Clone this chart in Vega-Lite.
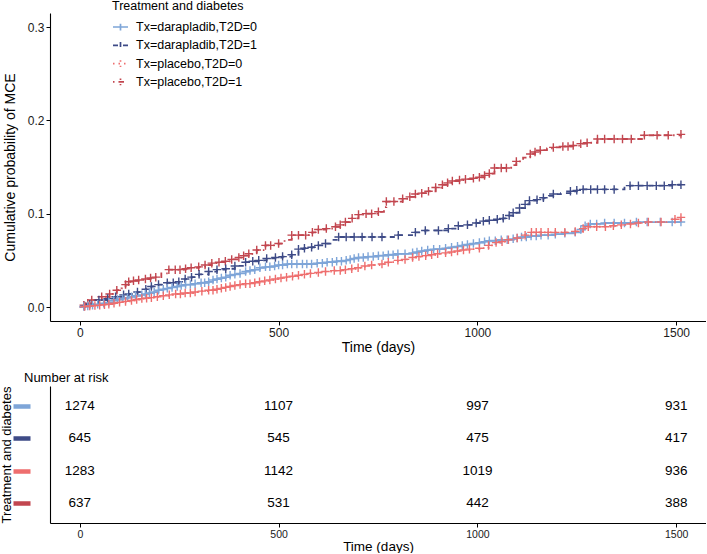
{
  "$schema": "https://vega.github.io/schema/vega-lite/v6.json",
  "background": "white",
  "padding": 0,
  "spacing": 18,
  "config": {
    "view": {"stroke": null},
    "font": "Liberation Sans",
    "axis": {"domainColor": "black", "domainWidth": 1.1, "tickColor": "black", "labelColor": "#1a1a1a", "titleColor": "black", "titleFontWeight": "normal", "labelFont": "Liberation Sans", "titleFont": "Liberation Sans", "grid": false},
    "legend": {"labelFont": "Liberation Sans", "titleFont": "Liberation Sans"}
  },
  "datasets": {
    "km": [
      {"g":"Tx=placebo,T2D=1","t":0,"p":0,"c":0},
      {"g":"Tx=placebo,T2D=1","t":10,"p":0.002,"c":1},
      {"g":"Tx=placebo,T2D=1","t":20,"p":0.004,"c":1},
      {"g":"Tx=placebo,T2D=1","t":30,"p":0.0075,"c":1},
      {"g":"Tx=placebo,T2D=1","t":45,"p":0.009,"c":0},
      {"g":"Tx=placebo,T2D=1","t":55,"p":0.011,"c":1},
      {"g":"Tx=placebo,T2D=1","t":75,"p":0.014,"c":1},
      {"g":"Tx=placebo,T2D=1","t":93,"p":0.018,"c":1},
      {"g":"Tx=placebo,T2D=1","t":105,"p":0.02,"c":0},
      {"g":"Tx=placebo,T2D=1","t":115,"p":0.024,"c":1},
      {"g":"Tx=placebo,T2D=1","t":123,"p":0.027,"c":1},
      {"g":"Tx=placebo,T2D=1","t":135,"p":0.028,"c":1},
      {"g":"Tx=placebo,T2D=1","t":148,"p":0.029,"c":1},
      {"g":"Tx=placebo,T2D=1","t":165,"p":0.03,"c":1},
      {"g":"Tx=placebo,T2D=1","t":178,"p":0.031,"c":1},
      {"g":"Tx=placebo,T2D=1","t":191,"p":0.032,"c":1},
      {"g":"Tx=placebo,T2D=1","t":205,"p":0.036,"c":0},
      {"g":"Tx=placebo,T2D=1","t":224,"p":0.04,"c":1},
      {"g":"Tx=placebo,T2D=1","t":240,"p":0.04,"c":1},
      {"g":"Tx=placebo,T2D=1","t":252,"p":0.04,"c":1},
      {"g":"Tx=placebo,T2D=1","t":266,"p":0.041,"c":1},
      {"g":"Tx=placebo,T2D=1","t":280,"p":0.042,"c":1},
      {"g":"Tx=placebo,T2D=1","t":299,"p":0.043,"c":1},
      {"g":"Tx=placebo,T2D=1","t":315,"p":0.045,"c":1},
      {"g":"Tx=placebo,T2D=1","t":332,"p":0.047,"c":1},
      {"g":"Tx=placebo,T2D=1","t":350,"p":0.048,"c":1},
      {"g":"Tx=placebo,T2D=1","t":366,"p":0.049,"c":1},
      {"g":"Tx=placebo,T2D=1","t":382,"p":0.051,"c":1},
      {"g":"Tx=placebo,T2D=1","t":400,"p":0.053,"c":1},
      {"g":"Tx=placebo,T2D=1","t":412,"p":0.055,"c":1},
      {"g":"Tx=placebo,T2D=1","t":425,"p":0.057,"c":1},
      {"g":"Tx=placebo,T2D=1","t":445,"p":0.061,"c":1},
      {"g":"Tx=placebo,T2D=1","t":467,"p":0.066,"c":1},
      {"g":"Tx=placebo,T2D=1","t":480,"p":0.066,"c":1},
      {"g":"Tx=placebo,T2D=1","t":500,"p":0.068,"c":1},
      {"g":"Tx=placebo,T2D=1","t":515,"p":0.072,"c":0},
      {"g":"Tx=placebo,T2D=1","t":533,"p":0.077,"c":1},
      {"g":"Tx=placebo,T2D=1","t":550,"p":0.077,"c":1},
      {"g":"Tx=placebo,T2D=1","t":568,"p":0.077,"c":1},
      {"g":"Tx=placebo,T2D=1","t":585,"p":0.08,"c":1},
      {"g":"Tx=placebo,T2D=1","t":600,"p":0.083,"c":1},
      {"g":"Tx=placebo,T2D=1","t":620,"p":0.084,"c":1},
      {"g":"Tx=placebo,T2D=1","t":643,"p":0.086,"c":1},
      {"g":"Tx=placebo,T2D=1","t":655,"p":0.088,"c":1},
      {"g":"Tx=placebo,T2D=1","t":668,"p":0.091,"c":1},
      {"g":"Tx=placebo,T2D=1","t":685,"p":0.095,"c":1},
      {"g":"Tx=placebo,T2D=1","t":701,"p":0.099,"c":1},
      {"g":"Tx=placebo,T2D=1","t":720,"p":0.1,"c":1},
      {"g":"Tx=placebo,T2D=1","t":734,"p":0.1,"c":1},
      {"g":"Tx=placebo,T2D=1","t":751,"p":0.102,"c":1},
      {"g":"Tx=placebo,T2D=1","t":765,"p":0.107,"c":0},
      {"g":"Tx=placebo,T2D=1","t":771,"p":0.113,"c":1},
      {"g":"Tx=placebo,T2D=1","t":790,"p":0.113,"c":1},
      {"g":"Tx=placebo,T2D=1","t":812,"p":0.116,"c":1},
      {"g":"Tx=placebo,T2D=1","t":830,"p":0.118,"c":1},
      {"g":"Tx=placebo,T2D=1","t":844,"p":0.121,"c":1},
      {"g":"Tx=placebo,T2D=1","t":860,"p":0.122,"c":1},
      {"g":"Tx=placebo,T2D=1","t":877,"p":0.124,"c":1},
      {"g":"Tx=placebo,T2D=1","t":895,"p":0.128,"c":1},
      {"g":"Tx=placebo,T2D=1","t":912,"p":0.131,"c":1},
      {"g":"Tx=placebo,T2D=1","t":925,"p":0.133,"c":1},
      {"g":"Tx=placebo,T2D=1","t":937,"p":0.135,"c":1},
      {"g":"Tx=placebo,T2D=1","t":955,"p":0.136,"c":1},
      {"g":"Tx=placebo,T2D=1","t":970,"p":0.137,"c":1},
      {"g":"Tx=placebo,T2D=1","t":990,"p":0.138,"c":1},
      {"g":"Tx=placebo,T2D=1","t":1005,"p":0.139,"c":1},
      {"g":"Tx=placebo,T2D=1","t":1018,"p":0.141,"c":1},
      {"g":"Tx=placebo,T2D=1","t":1030,"p":0.143,"c":1},
      {"g":"Tx=placebo,T2D=1","t":1043,"p":0.149,"c":1},
      {"g":"Tx=placebo,T2D=1","t":1060,"p":0.149,"c":1},
      {"g":"Tx=placebo,T2D=1","t":1073,"p":0.149,"c":1},
      {"g":"Tx=placebo,T2D=1","t":1085,"p":0.152,"c":0},
      {"g":"Tx=placebo,T2D=1","t":1098,"p":0.156,"c":1},
      {"g":"Tx=placebo,T2D=1","t":1115,"p":0.16,"c":0},
      {"g":"Tx=placebo,T2D=1","t":1133,"p":0.164,"c":1},
      {"g":"Tx=placebo,T2D=1","t":1145,"p":0.166,"c":1},
      {"g":"Tx=placebo,T2D=1","t":1158,"p":0.168,"c":1},
      {"g":"Tx=placebo,T2D=1","t":1175,"p":0.17,"c":0},
      {"g":"Tx=placebo,T2D=1","t":1191,"p":0.171,"c":1},
      {"g":"Tx=placebo,T2D=1","t":1215,"p":0.172,"c":1},
      {"g":"Tx=placebo,T2D=1","t":1228,"p":0.172,"c":1},
      {"g":"Tx=placebo,T2D=1","t":1241,"p":0.173,"c":1},
      {"g":"Tx=placebo,T2D=1","t":1260,"p":0.175,"c":1},
      {"g":"Tx=placebo,T2D=1","t":1276,"p":0.176,"c":1},
      {"g":"Tx=placebo,T2D=1","t":1302,"p":0.18,"c":1},
      {"g":"Tx=placebo,T2D=1","t":1320,"p":0.18,"c":1},
      {"g":"Tx=placebo,T2D=1","t":1344,"p":0.18,"c":1},
      {"g":"Tx=placebo,T2D=1","t":1365,"p":0.18,"c":1},
      {"g":"Tx=placebo,T2D=1","t":1387,"p":0.18,"c":1},
      {"g":"Tx=placebo,T2D=1","t":1420,"p":0.184,"c":1},
      {"g":"Tx=placebo,T2D=1","t":1452,"p":0.184,"c":1},
      {"g":"Tx=placebo,T2D=1","t":1480,"p":0.184,"c":1},
      {"g":"Tx=placebo,T2D=1","t":1512,"p":0.185,"c":1},

      {"g":"Tx=darapladib,T2D=1","t":0,"p":0,"c":0},
      {"g":"Tx=darapladib,T2D=1","t":12,"p":0.001,"c":1},
      {"g":"Tx=darapladib,T2D=1","t":25,"p":0.003,"c":1},
      {"g":"Tx=darapladib,T2D=1","t":48,"p":0.0075,"c":1},
      {"g":"Tx=darapladib,T2D=1","t":70,"p":0.009,"c":1},
      {"g":"Tx=darapladib,T2D=1","t":90,"p":0.011,"c":1},
      {"g":"Tx=darapladib,T2D=1","t":110,"p":0.013,"c":1},
      {"g":"Tx=darapladib,T2D=1","t":123,"p":0.014,"c":1},
      {"g":"Tx=darapladib,T2D=1","t":145,"p":0.016,"c":1},
      {"g":"Tx=darapladib,T2D=1","t":166,"p":0.019,"c":1},
      {"g":"Tx=darapladib,T2D=1","t":180,"p":0.022,"c":1},
      {"g":"Tx=darapladib,T2D=1","t":198,"p":0.024,"c":1},
      {"g":"Tx=darapladib,T2D=1","t":220,"p":0.026,"c":1},
      {"g":"Tx=darapladib,T2D=1","t":235,"p":0.026,"c":1},
      {"g":"Tx=darapladib,T2D=1","t":249,"p":0.027,"c":1},
      {"g":"Tx=darapladib,T2D=1","t":265,"p":0.03,"c":1},
      {"g":"Tx=darapladib,T2D=1","t":281,"p":0.032,"c":1},
      {"g":"Tx=darapladib,T2D=1","t":300,"p":0.035,"c":1},
      {"g":"Tx=darapladib,T2D=1","t":324,"p":0.038,"c":1},
      {"g":"Tx=darapladib,T2D=1","t":345,"p":0.04,"c":1},
      {"g":"Tx=darapladib,T2D=1","t":367,"p":0.041,"c":1},
      {"g":"Tx=darapladib,T2D=1","t":390,"p":0.044,"c":1},
      {"g":"Tx=darapladib,T2D=1","t":417,"p":0.048,"c":1},
      {"g":"Tx=darapladib,T2D=1","t":435,"p":0.049,"c":1},
      {"g":"Tx=darapladib,T2D=1","t":450,"p":0.05,"c":1},
      {"g":"Tx=darapladib,T2D=1","t":470,"p":0.052,"c":1},
      {"g":"Tx=darapladib,T2D=1","t":492,"p":0.053,"c":1},
      {"g":"Tx=darapladib,T2D=1","t":510,"p":0.054,"c":1},
      {"g":"Tx=darapladib,T2D=1","t":533,"p":0.056,"c":1},
      {"g":"Tx=darapladib,T2D=1","t":550,"p":0.062,"c":1},
      {"g":"Tx=darapladib,T2D=1","t":565,"p":0.063,"c":1},
      {"g":"Tx=darapladib,T2D=1","t":583,"p":0.064,"c":1},
      {"g":"Tx=darapladib,T2D=1","t":600,"p":0.066,"c":1},
      {"g":"Tx=darapladib,T2D=1","t":618,"p":0.068,"c":1},
      {"g":"Tx=darapladib,T2D=1","t":635,"p":0.072,"c":0},
      {"g":"Tx=darapladib,T2D=1","t":651,"p":0.075,"c":1},
      {"g":"Tx=darapladib,T2D=1","t":670,"p":0.075,"c":1},
      {"g":"Tx=darapladib,T2D=1","t":690,"p":0.075,"c":1},
      {"g":"Tx=darapladib,T2D=1","t":710,"p":0.075,"c":1},
      {"g":"Tx=darapladib,T2D=1","t":735,"p":0.075,"c":1},
      {"g":"Tx=darapladib,T2D=1","t":760,"p":0.075,"c":1},
      {"g":"Tx=darapladib,T2D=1","t":801,"p":0.077,"c":1},
      {"g":"Tx=darapladib,T2D=1","t":844,"p":0.08,"c":1},
      {"g":"Tx=darapladib,T2D=1","t":869,"p":0.082,"c":1},
      {"g":"Tx=darapladib,T2D=1","t":902,"p":0.082,"c":1},
      {"g":"Tx=darapladib,T2D=1","t":927,"p":0.084,"c":1},
      {"g":"Tx=darapladib,T2D=1","t":952,"p":0.087,"c":1},
      {"g":"Tx=darapladib,T2D=1","t":975,"p":0.088,"c":1},
      {"g":"Tx=darapladib,T2D=1","t":997,"p":0.09,"c":1},
      {"g":"Tx=darapladib,T2D=1","t":1015,"p":0.092,"c":1},
      {"g":"Tx=darapladib,T2D=1","t":1030,"p":0.093,"c":1},
      {"g":"Tx=darapladib,T2D=1","t":1050,"p":0.094,"c":1},
      {"g":"Tx=darapladib,T2D=1","t":1065,"p":0.095,"c":1},
      {"g":"Tx=darapladib,T2D=1","t":1080,"p":0.098,"c":1},
      {"g":"Tx=darapladib,T2D=1","t":1090,"p":0.101,"c":1},
      {"g":"Tx=darapladib,T2D=1","t":1106,"p":0.106,"c":1},
      {"g":"Tx=darapladib,T2D=1","t":1120,"p":0.11,"c":1},
      {"g":"Tx=darapladib,T2D=1","t":1131,"p":0.114,"c":1},
      {"g":"Tx=darapladib,T2D=1","t":1150,"p":0.115,"c":1},
      {"g":"Tx=darapladib,T2D=1","t":1166,"p":0.117,"c":1},
      {"g":"Tx=darapladib,T2D=1","t":1180,"p":0.119,"c":0},
      {"g":"Tx=darapladib,T2D=1","t":1191,"p":0.121,"c":1},
      {"g":"Tx=darapladib,T2D=1","t":1210,"p":0.122,"c":0},
      {"g":"Tx=darapladib,T2D=1","t":1234,"p":0.124,"c":1},
      {"g":"Tx=darapladib,T2D=1","t":1250,"p":0.125,"c":1},
      {"g":"Tx=darapladib,T2D=1","t":1266,"p":0.126,"c":1},
      {"g":"Tx=darapladib,T2D=1","t":1285,"p":0.126,"c":1},
      {"g":"Tx=darapladib,T2D=1","t":1302,"p":0.126,"c":1},
      {"g":"Tx=darapladib,T2D=1","t":1320,"p":0.126,"c":1},
      {"g":"Tx=darapladib,T2D=1","t":1344,"p":0.126,"c":1},
      {"g":"Tx=darapladib,T2D=1","t":1370,"p":0.128,"c":0},
      {"g":"Tx=darapladib,T2D=1","t":1384,"p":0.13,"c":1},
      {"g":"Tx=darapladib,T2D=1","t":1405,"p":0.13,"c":1},
      {"g":"Tx=darapladib,T2D=1","t":1427,"p":0.13,"c":1},
      {"g":"Tx=darapladib,T2D=1","t":1450,"p":0.13,"c":1},
      {"g":"Tx=darapladib,T2D=1","t":1470,"p":0.13,"c":1},
      {"g":"Tx=darapladib,T2D=1","t":1490,"p":0.131,"c":1},
      {"g":"Tx=darapladib,T2D=1","t":1512,"p":0.131,"c":1},

      {"g":"Tx=darapladib,T2D=0","t":0,"p":0,"c":0},
      {"g":"Tx=darapladib,T2D=0","t":10,"p":0.0005,"c":1},
      {"g":"Tx=darapladib,T2D=0","t":20,"p":0.001,"c":1},
      {"g":"Tx=darapladib,T2D=0","t":32,"p":0.002,"c":1},
      {"g":"Tx=darapladib,T2D=0","t":45,"p":0.003,"c":1},
      {"g":"Tx=darapladib,T2D=0","t":60,"p":0.004,"c":1},
      {"g":"Tx=darapladib,T2D=0","t":73,"p":0.005,"c":1},
      {"g":"Tx=darapladib,T2D=0","t":85,"p":0.007,"c":1},
      {"g":"Tx=darapladib,T2D=0","t":95,"p":0.008,"c":1},
      {"g":"Tx=darapladib,T2D=0","t":108,"p":0.009,"c":1},
      {"g":"Tx=darapladib,T2D=0","t":120,"p":0.01,"c":1},
      {"g":"Tx=darapladib,T2D=0","t":130,"p":0.011,"c":1},
      {"g":"Tx=darapladib,T2D=0","t":140,"p":0.012,"c":1},
      {"g":"Tx=darapladib,T2D=0","t":156,"p":0.013,"c":1},
      {"g":"Tx=darapladib,T2D=0","t":165,"p":0.014,"c":1},
      {"g":"Tx=darapladib,T2D=0","t":175,"p":0.015,"c":1},
      {"g":"Tx=darapladib,T2D=0","t":187,"p":0.016,"c":1},
      {"g":"Tx=darapladib,T2D=0","t":198,"p":0.018,"c":1},
      {"g":"Tx=darapladib,T2D=0","t":210,"p":0.019,"c":1},
      {"g":"Tx=darapladib,T2D=0","t":220,"p":0.02,"c":1},
      {"g":"Tx=darapladib,T2D=0","t":232,"p":0.021,"c":1},
      {"g":"Tx=darapladib,T2D=0","t":245,"p":0.022,"c":1},
      {"g":"Tx=darapladib,T2D=0","t":255,"p":0.023,"c":1},
      {"g":"Tx=darapladib,T2D=0","t":266,"p":0.024,"c":1},
      {"g":"Tx=darapladib,T2D=0","t":278,"p":0.024,"c":1},
      {"g":"Tx=darapladib,T2D=0","t":290,"p":0.025,"c":1},
      {"g":"Tx=darapladib,T2D=0","t":305,"p":0.026,"c":1},
      {"g":"Tx=darapladib,T2D=0","t":314,"p":0.026,"c":1},
      {"g":"Tx=darapladib,T2D=0","t":324,"p":0.027,"c":1},
      {"g":"Tx=darapladib,T2D=0","t":335,"p":0.029,"c":1},
      {"g":"Tx=darapladib,T2D=0","t":345,"p":0.03,"c":1},
      {"g":"Tx=darapladib,T2D=0","t":356,"p":0.031,"c":1},
      {"g":"Tx=darapladib,T2D=0","t":367,"p":0.032,"c":1},
      {"g":"Tx=darapladib,T2D=0","t":378,"p":0.034,"c":1},
      {"g":"Tx=darapladib,T2D=0","t":390,"p":0.035,"c":1},
      {"g":"Tx=darapladib,T2D=0","t":403,"p":0.036,"c":1},
      {"g":"Tx=darapladib,T2D=0","t":417,"p":0.038,"c":1},
      {"g":"Tx=darapladib,T2D=0","t":428,"p":0.039,"c":1},
      {"g":"Tx=darapladib,T2D=0","t":440,"p":0.04,"c":1},
      {"g":"Tx=darapladib,T2D=0","t":453,"p":0.042,"c":1},
      {"g":"Tx=darapladib,T2D=0","t":467,"p":0.043,"c":1},
      {"g":"Tx=darapladib,T2D=0","t":478,"p":0.043,"c":1},
      {"g":"Tx=darapladib,T2D=0","t":490,"p":0.044,"c":1},
      {"g":"Tx=darapladib,T2D=0","t":500,"p":0.045,"c":1},
      {"g":"Tx=darapladib,T2D=0","t":510,"p":0.045,"c":1},
      {"g":"Tx=darapladib,T2D=0","t":522,"p":0.046,"c":1},
      {"g":"Tx=darapladib,T2D=0","t":533,"p":0.046,"c":1},
      {"g":"Tx=darapladib,T2D=0","t":546,"p":0.046,"c":1},
      {"g":"Tx=darapladib,T2D=0","t":560,"p":0.046,"c":1},
      {"g":"Tx=darapladib,T2D=0","t":571,"p":0.046,"c":1},
      {"g":"Tx=darapladib,T2D=0","t":583,"p":0.046,"c":1},
      {"g":"Tx=darapladib,T2D=0","t":597,"p":0.047,"c":1},
      {"g":"Tx=darapladib,T2D=0","t":610,"p":0.047,"c":1},
      {"g":"Tx=darapladib,T2D=0","t":622,"p":0.048,"c":1},
      {"g":"Tx=darapladib,T2D=0","t":635,"p":0.048,"c":1},
      {"g":"Tx=darapladib,T2D=0","t":646,"p":0.049,"c":1},
      {"g":"Tx=darapladib,T2D=0","t":658,"p":0.049,"c":1},
      {"g":"Tx=darapladib,T2D=0","t":670,"p":0.05,"c":1},
      {"g":"Tx=darapladib,T2D=0","t":680,"p":0.051,"c":1},
      {"g":"Tx=darapladib,T2D=0","t":690,"p":0.052,"c":1},
      {"g":"Tx=darapladib,T2D=0","t":701,"p":0.053,"c":1},
      {"g":"Tx=darapladib,T2D=0","t":713,"p":0.053,"c":1},
      {"g":"Tx=darapladib,T2D=0","t":725,"p":0.054,"c":1},
      {"g":"Tx=darapladib,T2D=0","t":738,"p":0.054,"c":1},
      {"g":"Tx=darapladib,T2D=0","t":751,"p":0.055,"c":1},
      {"g":"Tx=darapladib,T2D=0","t":763,"p":0.055,"c":1},
      {"g":"Tx=darapladib,T2D=0","t":776,"p":0.056,"c":1},
      {"g":"Tx=darapladib,T2D=0","t":788,"p":0.056,"c":1},
      {"g":"Tx=darapladib,T2D=0","t":800,"p":0.057,"c":1},
      {"g":"Tx=darapladib,T2D=0","t":818,"p":0.057,"c":1},
      {"g":"Tx=darapladib,T2D=0","t":837,"p":0.058,"c":1},
      {"g":"Tx=darapladib,T2D=0","t":848,"p":0.059,"c":1},
      {"g":"Tx=darapladib,T2D=0","t":860,"p":0.06,"c":1},
      {"g":"Tx=darapladib,T2D=0","t":875,"p":0.061,"c":1},
      {"g":"Tx=darapladib,T2D=0","t":890,"p":0.062,"c":1},
      {"g":"Tx=darapladib,T2D=0","t":905,"p":0.062,"c":1},
      {"g":"Tx=darapladib,T2D=0","t":920,"p":0.063,"c":1},
      {"g":"Tx=darapladib,T2D=0","t":935,"p":0.064,"c":1},
      {"g":"Tx=darapladib,T2D=0","t":950,"p":0.065,"c":1},
      {"g":"Tx=darapladib,T2D=0","t":962,"p":0.066,"c":1},
      {"g":"Tx=darapladib,T2D=0","t":975,"p":0.067,"c":1},
      {"g":"Tx=darapladib,T2D=0","t":990,"p":0.068,"c":1},
      {"g":"Tx=darapladib,T2D=0","t":1005,"p":0.069,"c":1},
      {"g":"Tx=darapladib,T2D=0","t":1018,"p":0.07,"c":1},
      {"g":"Tx=darapladib,T2D=0","t":1030,"p":0.071,"c":1},
      {"g":"Tx=darapladib,T2D=0","t":1045,"p":0.071,"c":1},
      {"g":"Tx=darapladib,T2D=0","t":1060,"p":0.072,"c":1},
      {"g":"Tx=darapladib,T2D=0","t":1075,"p":0.072,"c":1},
      {"g":"Tx=darapladib,T2D=0","t":1090,"p":0.073,"c":1},
      {"g":"Tx=darapladib,T2D=0","t":1100,"p":0.074,"c":1},
      {"g":"Tx=darapladib,T2D=0","t":1111,"p":0.075,"c":1},
      {"g":"Tx=darapladib,T2D=0","t":1123,"p":0.075,"c":1},
      {"g":"Tx=darapladib,T2D=0","t":1135,"p":0.076,"c":1},
      {"g":"Tx=darapladib,T2D=0","t":1148,"p":0.076,"c":1},
      {"g":"Tx=darapladib,T2D=0","t":1160,"p":0.077,"c":1},
      {"g":"Tx=darapladib,T2D=0","t":1178,"p":0.077,"c":1},
      {"g":"Tx=darapladib,T2D=0","t":1196,"p":0.078,"c":1},
      {"g":"Tx=darapladib,T2D=0","t":1220,"p":0.079,"c":1},
      {"g":"Tx=darapladib,T2D=0","t":1246,"p":0.08,"c":1},
      {"g":"Tx=darapladib,T2D=0","t":1260,"p":0.083,"c":1},
      {"g":"Tx=darapladib,T2D=0","t":1271,"p":0.087,"c":1},
      {"g":"Tx=darapladib,T2D=0","t":1284,"p":0.089,"c":1},
      {"g":"Tx=darapladib,T2D=0","t":1300,"p":0.089,"c":1},
      {"g":"Tx=darapladib,T2D=0","t":1320,"p":0.09,"c":1},
      {"g":"Tx=darapladib,T2D=0","t":1344,"p":0.09,"c":1},
      {"g":"Tx=darapladib,T2D=0","t":1370,"p":0.09,"c":1},
      {"g":"Tx=darapladib,T2D=0","t":1400,"p":0.091,"c":1},
      {"g":"Tx=darapladib,T2D=0","t":1427,"p":0.091,"c":1},
      {"g":"Tx=darapladib,T2D=0","t":1460,"p":0.091,"c":1},
      {"g":"Tx=darapladib,T2D=0","t":1490,"p":0.091,"c":1},
      {"g":"Tx=darapladib,T2D=0","t":1512,"p":0.091,"c":1},

      {"g":"Tx=placebo,T2D=0","t":0,"p":0,"c":0},
      {"g":"Tx=placebo,T2D=0","t":12,"p":0.0005,"c":1},
      {"g":"Tx=placebo,T2D=0","t":25,"p":0.001,"c":1},
      {"g":"Tx=placebo,T2D=0","t":38,"p":0.0015,"c":1},
      {"g":"Tx=placebo,T2D=0","t":50,"p":0.002,"c":1},
      {"g":"Tx=placebo,T2D=0","t":62,"p":0.0025,"c":1},
      {"g":"Tx=placebo,T2D=0","t":73,"p":0.003,"c":1},
      {"g":"Tx=placebo,T2D=0","t":86,"p":0.004,"c":1},
      {"g":"Tx=placebo,T2D=0","t":100,"p":0.005,"c":1},
      {"g":"Tx=placebo,T2D=0","t":115,"p":0.006,"c":1},
      {"g":"Tx=placebo,T2D=0","t":130,"p":0.007,"c":1},
      {"g":"Tx=placebo,T2D=0","t":143,"p":0.008,"c":1},
      {"g":"Tx=placebo,T2D=0","t":156,"p":0.009,"c":1},
      {"g":"Tx=placebo,T2D=0","t":168,"p":0.0095,"c":1},
      {"g":"Tx=placebo,T2D=0","t":180,"p":0.01,"c":1},
      {"g":"Tx=placebo,T2D=0","t":195,"p":0.011,"c":1},
      {"g":"Tx=placebo,T2D=0","t":210,"p":0.012,"c":1},
      {"g":"Tx=placebo,T2D=0","t":225,"p":0.013,"c":1},
      {"g":"Tx=placebo,T2D=0","t":241,"p":0.014,"c":1},
      {"g":"Tx=placebo,T2D=0","t":253,"p":0.014,"c":1},
      {"g":"Tx=placebo,T2D=0","t":265,"p":0.015,"c":1},
      {"g":"Tx=placebo,T2D=0","t":278,"p":0.015,"c":1},
      {"g":"Tx=placebo,T2D=0","t":290,"p":0.016,"c":1},
      {"g":"Tx=placebo,T2D=0","t":307,"p":0.017,"c":1},
      {"g":"Tx=placebo,T2D=0","t":324,"p":0.018,"c":1},
      {"g":"Tx=placebo,T2D=0","t":335,"p":0.018,"c":1},
      {"g":"Tx=placebo,T2D=0","t":345,"p":0.019,"c":1},
      {"g":"Tx=placebo,T2D=0","t":356,"p":0.02,"c":1},
      {"g":"Tx=placebo,T2D=0","t":367,"p":0.021,"c":1},
      {"g":"Tx=placebo,T2D=0","t":378,"p":0.022,"c":1},
      {"g":"Tx=placebo,T2D=0","t":390,"p":0.023,"c":1},
      {"g":"Tx=placebo,T2D=0","t":403,"p":0.024,"c":1},
      {"g":"Tx=placebo,T2D=0","t":417,"p":0.025,"c":1},
      {"g":"Tx=placebo,T2D=0","t":428,"p":0.025,"c":1},
      {"g":"Tx=placebo,T2D=0","t":440,"p":0.026,"c":1},
      {"g":"Tx=placebo,T2D=0","t":452,"p":0.027,"c":1},
      {"g":"Tx=placebo,T2D=0","t":465,"p":0.028,"c":1},
      {"g":"Tx=placebo,T2D=0","t":478,"p":0.029,"c":1},
      {"g":"Tx=placebo,T2D=0","t":492,"p":0.03,"c":1},
      {"g":"Tx=placebo,T2D=0","t":506,"p":0.031,"c":1},
      {"g":"Tx=placebo,T2D=0","t":520,"p":0.032,"c":1},
      {"g":"Tx=placebo,T2D=0","t":535,"p":0.033,"c":1},
      {"g":"Tx=placebo,T2D=0","t":550,"p":0.034,"c":1},
      {"g":"Tx=placebo,T2D=0","t":565,"p":0.035,"c":1},
      {"g":"Tx=placebo,T2D=0","t":580,"p":0.036,"c":1},
      {"g":"Tx=placebo,T2D=0","t":600,"p":0.037,"c":1},
      {"g":"Tx=placebo,T2D=0","t":618,"p":0.038,"c":1},
      {"g":"Tx=placebo,T2D=0","t":640,"p":0.039,"c":1},
      {"g":"Tx=placebo,T2D=0","t":655,"p":0.039,"c":1},
      {"g":"Tx=placebo,T2D=0","t":668,"p":0.04,"c":1},
      {"g":"Tx=placebo,T2D=0","t":684,"p":0.041,"c":1},
      {"g":"Tx=placebo,T2D=0","t":700,"p":0.042,"c":1},
      {"g":"Tx=placebo,T2D=0","t":717,"p":0.044,"c":1},
      {"g":"Tx=placebo,T2D=0","t":734,"p":0.045,"c":1},
      {"g":"Tx=placebo,T2D=0","t":760,"p":0.046,"c":1},
      {"g":"Tx=placebo,T2D=0","t":776,"p":0.048,"c":1},
      {"g":"Tx=placebo,T2D=0","t":800,"p":0.05,"c":1},
      {"g":"Tx=placebo,T2D=0","t":818,"p":0.051,"c":1},
      {"g":"Tx=placebo,T2D=0","t":837,"p":0.053,"c":1},
      {"g":"Tx=placebo,T2D=0","t":853,"p":0.054,"c":1},
      {"g":"Tx=placebo,T2D=0","t":870,"p":0.055,"c":1},
      {"g":"Tx=placebo,T2D=0","t":885,"p":0.056,"c":1},
      {"g":"Tx=placebo,T2D=0","t":900,"p":0.057,"c":1},
      {"g":"Tx=placebo,T2D=0","t":920,"p":0.058,"c":1},
      {"g":"Tx=placebo,T2D=0","t":935,"p":0.059,"c":1},
      {"g":"Tx=placebo,T2D=0","t":950,"p":0.06,"c":1},
      {"g":"Tx=placebo,T2D=0","t":965,"p":0.061,"c":1},
      {"g":"Tx=placebo,T2D=0","t":980,"p":0.062,"c":1},
      {"g":"Tx=placebo,T2D=0","t":1005,"p":0.063,"c":1},
      {"g":"Tx=placebo,T2D=0","t":1028,"p":0.066,"c":1},
      {"g":"Tx=placebo,T2D=0","t":1047,"p":0.069,"c":1},
      {"g":"Tx=placebo,T2D=0","t":1062,"p":0.07,"c":1},
      {"g":"Tx=placebo,T2D=0","t":1078,"p":0.072,"c":1},
      {"g":"Tx=placebo,T2D=0","t":1100,"p":0.074,"c":1},
      {"g":"Tx=placebo,T2D=0","t":1120,"p":0.077,"c":1},
      {"g":"Tx=placebo,T2D=0","t":1136,"p":0.08,"c":1},
      {"g":"Tx=placebo,T2D=0","t":1148,"p":0.08,"c":1},
      {"g":"Tx=placebo,T2D=0","t":1160,"p":0.08,"c":1},
      {"g":"Tx=placebo,T2D=0","t":1178,"p":0.08,"c":1},
      {"g":"Tx=placebo,T2D=0","t":1196,"p":0.08,"c":1},
      {"g":"Tx=placebo,T2D=0","t":1220,"p":0.08,"c":1},
      {"g":"Tx=placebo,T2D=0","t":1246,"p":0.081,"c":1},
      {"g":"Tx=placebo,T2D=0","t":1266,"p":0.084,"c":1},
      {"g":"Tx=placebo,T2D=0","t":1279,"p":0.086,"c":1},
      {"g":"Tx=placebo,T2D=0","t":1300,"p":0.086,"c":1},
      {"g":"Tx=placebo,T2D=0","t":1322,"p":0.086,"c":1},
      {"g":"Tx=placebo,T2D=0","t":1342,"p":0.087,"c":1},
      {"g":"Tx=placebo,T2D=0","t":1362,"p":0.088,"c":1},
      {"g":"Tx=placebo,T2D=0","t":1385,"p":0.089,"c":1},
      {"g":"Tx=placebo,T2D=0","t":1405,"p":0.09,"c":1},
      {"g":"Tx=placebo,T2D=0","t":1430,"p":0.091,"c":1},
      {"g":"Tx=placebo,T2D=0","t":1462,"p":0.091,"c":1},
      {"g":"Tx=placebo,T2D=0","t":1497,"p":0.094,"c":1},
      {"g":"Tx=placebo,T2D=0","t":1512,"p":0.096,"c":1}
    ],
    "risk": [
      {"g":"Tx=darapladib,T2D=0","t":0,"n":1274},
      {"g":"Tx=darapladib,T2D=0","t":500,"n":1107},
      {"g":"Tx=darapladib,T2D=0","t":1000,"n":997},
      {"g":"Tx=darapladib,T2D=0","t":1500,"n":931},
      {"g":"Tx=darapladib,T2D=1","t":0,"n":645},
      {"g":"Tx=darapladib,T2D=1","t":500,"n":545},
      {"g":"Tx=darapladib,T2D=1","t":1000,"n":475},
      {"g":"Tx=darapladib,T2D=1","t":1500,"n":417},
      {"g":"Tx=placebo,T2D=0","t":0,"n":1283},
      {"g":"Tx=placebo,T2D=0","t":500,"n":1142},
      {"g":"Tx=placebo,T2D=0","t":1000,"n":1019},
      {"g":"Tx=placebo,T2D=0","t":1500,"n":936},
      {"g":"Tx=placebo,T2D=1","t":0,"n":637},
      {"g":"Tx=placebo,T2D=1","t":500,"n":531},
      {"g":"Tx=placebo,T2D=1","t":1000,"n":442},
      {"g":"Tx=placebo,T2D=1","t":1500,"n":388}
    ]
  },
  "vconcat": [
    {
      "width": 656,
      "height": 308,
      "data": {"name": "km"},
      "layer": [
        {
          "mark": {"type": "line", "interpolate": "step-after", "strokeWidth": 1.8},
          "encoding": {
            "x": {"field": "t", "type": "quantitative", "scale": {"domain": [-75, 1575], "nice": false, "zero": false},
                  "axis": {"values": [0, 500, 1000, 1500], "format": "d", "title": "Time (days)", "labelFontSize": 12, "titleFontSize": 14, "tickSize": 4, "labelPadding": 2, "titlePadding": 2}},
            "y": {"field": "p", "type": "quantitative", "scale": {"domain": [-0.015, 0.315], "nice": false, "zero": false},
                  "axis": {"values": [0, 0.1, 0.2, 0.3], "format": ".1f", "title": "Cumulative probability of MCE", "labelFontSize": 12, "titleFontSize": 14, "tickSize": 4, "labelPadding": 2, "titlePadding": 10}},
            "color": {"field": "g", "type": "nominal",
                      "scale": {"domain": ["Tx=darapladib,T2D=0", "Tx=darapladib,T2D=1", "Tx=placebo,T2D=0", "Tx=placebo,T2D=1"], "range": ["#7EA5D8", "#3E4B87", "#EE6E6E", "#C2464F"]},
                      "legend": {"orient": "none", "legendX": 62, "legendY": -13, "title": "Treatment and diabetes", "titleFontSize": 12.5, "titleFontWeight": "normal", "titleColor": "black", "labelFontSize": 12.5, "labelColor": "black", "symbolType": "M-1,0H1M0,-0.45V0.45", "symbolSize": 225, "symbolStrokeWidth": 1.7, "rowPadding": 2.3, "titlePadding": 6, "labelOffset": 7, "padding": 0}},
            "strokeDash": {"field": "g", "type": "nominal",
                           "scale": {"domain": ["Tx=darapladib,T2D=0", "Tx=darapladib,T2D=1", "Tx=placebo,T2D=0", "Tx=placebo,T2D=1"], "range": [[1, 0], [5, 5], [1.5, 4], [1.5, 4, 5.5, 4]]},
                           "legend": null}
          }
        },
        {
          "transform": [{"filter": "datum.c == 1"}],
          "mark": {"type": "point", "shape": "M-1,0H1M0,-1V1", "size": 72, "strokeWidth": 1.4, "filled": false, "opacity": 1},
          "encoding": {
            "x": {"field": "t", "type": "quantitative"},
            "y": {"field": "p", "type": "quantitative"},
            "color": {"field": "g", "type": "nominal",
                      "legend": {"orient": "none", "legendX": 62, "legendY": -13, "title": "Treatment and diabetes", "titleFontSize": 12.5, "titleFontWeight": "normal", "titleColor": "black", "labelFontSize": 12.5, "labelColor": "black", "symbolType": "M-1,0H1M0,-0.45V0.45", "symbolSize": 225, "symbolStrokeWidth": 1.7, "rowPadding": 2.3, "titlePadding": 6, "labelOffset": 7, "padding": 0}}
          }
        }
      ]
    },
    {
      "width": 656,
      "height": 137,
      "data": {"name": "risk"},
      "title": {"text": "Number at risk", "anchor": "start", "frame": "group", "fontSize": 13, "fontWeight": "normal", "color": "black", "dx": -26, "offset": 1},
      "mark": {"type": "text", "fontSize": 13.5, "color": "black", "align": "center", "baseline": "middle"},
      "encoding": {
        "x": {"field": "t", "type": "quantitative", "scale": {"domain": [-75, 1575], "nice": false, "zero": false},
              "axis": {"values": [0, 500, 1000, 1500], "format": "d", "title": "Time (days)", "labelFontSize": 10.5, "titleFontSize": 13.5, "tickSize": 4, "labelPadding": 2, "titlePadding": 0}},
        "y": {"field": "g", "type": "nominal",
              "scale": {"type": "point", "domain": ["Tx=darapladib,T2D=0", "Tx=darapladib,T2D=1", "Tx=placebo,T2D=0", "Tx=placebo,T2D=1"], "padding": 0.6},
              "axis": {"labels": false, "title": "Treatment and diabetes", "titleFontSize": 13, "titlePadding": -3, "tickSize": 37, "tickWidth": 4.5, "tickCap": "butt", "tickDash": [0, 20, 17, 100],
                       "tickColor": {"condition": [
                         {"test": "datum.value === 'Tx=darapladib,T2D=0'", "value": "#7EA5D8"},
                         {"test": "datum.value === 'Tx=darapladib,T2D=1'", "value": "#3E4B87"},
                         {"test": "datum.value === 'Tx=placebo,T2D=0'", "value": "#EE6E6E"}
                       ], "value": "#C2464F"}}},
        "text": {"field": "n", "type": "quantitative"}
      }
    }
  ]
}
